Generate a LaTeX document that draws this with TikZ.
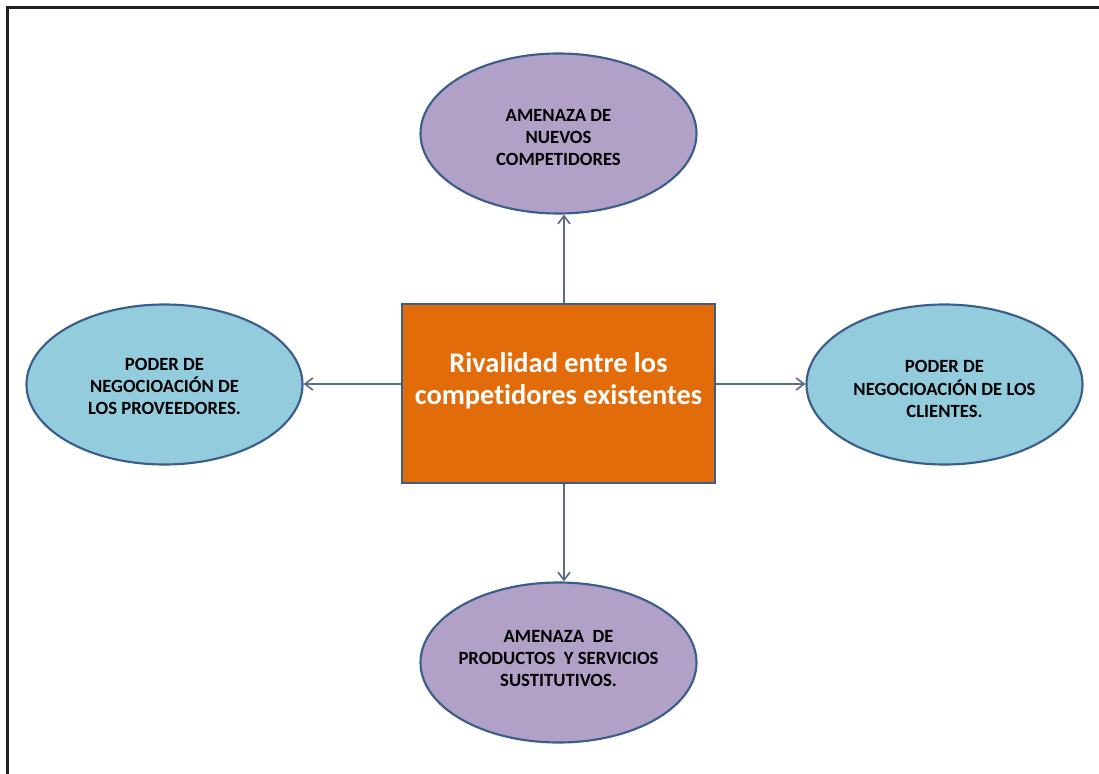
\documentclass[tikz,border=0pt]{standalone}
\usepackage{fontspec}
\setmainfont{Carlito}[Ligatures=NoCommon]
\usetikzlibrary{shapes.geometric,arrows.meta}
\definecolor{borderblue}{HTML}{3A5D8C}
\definecolor{lilac}{HTML}{B2A1C7}
\definecolor{skyblue}{HTML}{93CDDD}
\definecolor{orng}{HTML}{E36C0A}
\definecolor{arrowcol}{HTML}{5A6C88}
\definecolor{framecol}{HTML}{1E1E1E}
\tikzset{
  oval/.style={ellipse, draw=borderblue, line width=1.6pt, inner sep=0pt,
    minimum width=276*0.75pt, minimum height=160*0.75pt},
  ovaltext/.style={font=\bfseries\fontsize{14}{16.8}\selectfont, align=center, text=black, inner sep=0pt},
  purple oval/.style={oval, fill=lilac},
  blue oval/.style={oval, fill=skyblue},
  centerbox/.style={rectangle, draw=borderblue, line width=1.6pt, fill=orng,
    minimum width=313*0.75pt, minimum height=179*0.75pt, inner sep=0pt},
  centertext/.style={font=\bfseries\fontsize{21.3}{24}\selectfont, text=white, align=center},
  link/.style={draw=arrowcol, line width=1.2pt, -{Straight Barb[length=6pt,width=9pt]}},
  framestyle/.style={draw=framecol, line width=1.8pt}
}
\begin{document}
\begin{tikzpicture}[x=0.75pt,y=-0.75pt]
\useasboundingbox (0,0) rectangle (1099,774);
\coordinate (ftr) at (1099,7.5);
\coordinate (ftl) at (7.5,7.5);
\coordinate (fbl) at (7.5,774);
\draw[framestyle] (ftr) -- (ftl) -- (fbl);

\node[centerbox] (c) at (558.5,393.5) {};
\node[centertext] (ct) at (558.5,381) {Rivalidad entre los\\competidores existentes};

\node[purple oval] (top) at (558.5,133.5) {};
\node[ovaltext] (topt) at (558.5,137.5) {AMENAZA DE\\NUEVOS\\COMPETIDORES};
\node[blue oval] (left) at (164.5,384.5) {};
\node[ovaltext] (leftt) at (164.5,386.5) {PODER DE\\NEGOCIOACIÓN DE\\LOS PROVEEDORES.};
\node[blue oval] (right) at (944.5,384.5) {};
\node[ovaltext] (rightt) at (944.5,389) {PODER DE\\NEGOCIOACIÓN DE LOS\\CLIENTES.};
\node[purple oval] (bottom) at (558.5,662.5) {};
\node[ovaltext] (bottomt) at (558.5,658.5) {AMENAZA~ DE\\PRODUCTOS~ Y SERVICIOS\\SUSTITUTIVOS.};

\draw[link] (c.north -| 564,0) -- (top.south -| 564,0);
\draw[link] (c.south -| 564,0) -- (bottom.north -| 564,0);
\draw[link] (c.west |- 0,384) -- (left.east |- 0,384);
\draw[link] (c.east |- 0,384) -- (right.west |- 0,384);
\end{tikzpicture}
\end{document}
